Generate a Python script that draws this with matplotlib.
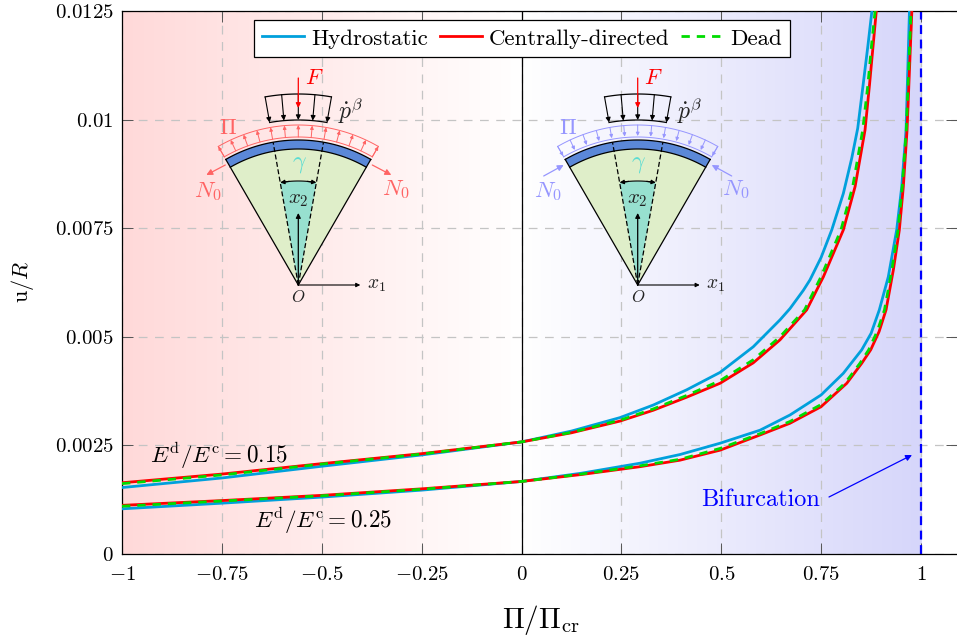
import numpy as np
import matplotlib
matplotlib.use('Agg')
import matplotlib.pyplot as plt

plt.rcParams['font.family'] = ['cmr10', 'DejaVu Serif']
plt.rcParams['mathtext.fontset'] = 'cm'
plt.rcParams['axes.unicode_minus'] = False
plt.rcParams['axes.formatter.use_mathtext'] = True

# curves, stiffness ratio 0.15
x_h15 = [-1, -0.75, -0.5, -0.25, 0, 0.125, 0.2466, 0.33, 0.4135, 0.4969, 0.58, 0.647, 0.672, 0.7054, 0.722, 0.75, 0.7765, 0.8055, 0.8265, 0.8415, 0.855, 0.867, 0.877]
u_h15 = [0.00153, 0.00175, 0.00202, 0.00228, 0.00258, 0.00283, 0.00314, 0.00343, 0.00378, 0.00418, 0.00477, 0.00539, 0.00565, 0.00607, 0.00631, 0.00683, 0.00746, 0.0083, 0.00911, 0.0098, 0.0108, 0.0117, 0.0125]
x_r15 = [-1, -0.75, -0.5, -0.25, 0, 0.125, 0.2466, 0.33, 0.4135, 0.4969, 0.58, 0.647, 0.7138, 0.7555, 0.8055, 0.835, 0.8598, 0.871, 0.880, 0.888]
u_r15 = [0.00164, 0.00184, 0.00208, 0.00231, 0.00258, 0.00279, 0.00306, 0.00331, 0.00361, 0.00393, 0.0044, 0.00493, 0.00562, 0.00638, 0.00746, 0.00846, 0.00976, 0.0108, 0.0117, 0.0125]
x_d15 = [-1, -0.75, -0.5, -0.25, 0, 0.125, 0.2466, 0.33, 0.4135, 0.4969, 0.58, 0.647, 0.7085, 0.7495, 0.7995, 0.829, 0.854, 0.867, 0.876, 0.885]
u_d15 = [0.00162, 0.00182, 0.00207, 0.0023, 0.00258, 0.0028, 0.00308, 0.00334, 0.00365, 0.00399, 0.00447, 0.005, 0.00562, 0.00638, 0.00746, 0.00846, 0.00976, 0.0108, 0.0117, 0.0125]

# curves, stiffness ratio 0.25
x_h25 = [-1, -0.75, -0.5, -0.25, 0, 0.15, 0.2966, 0.3967, 0.4969, 0.597, 0.672, 0.7497, 0.8055, 0.8515, 0.875, 0.8956, 0.918, 0.939, 0.9517, 0.9625, 0.971]
u_h25 = [0.00104, 0.00117, 0.00131, 0.00147, 0.00167, 0.00186, 0.00209, 0.00229, 0.00255, 0.00285, 0.0032, 0.00366, 0.00416, 0.0047, 0.00508, 0.00562, 0.00638, 0.00746, 0.00846, 0.00976, 0.0125]
x_r25 = [-1, -0.75, -0.5, -0.25, 0, 0.15, 0.2966, 0.3967, 0.4969, 0.597, 0.672, 0.7497, 0.8141, 0.8515, 0.874, 0.895, 0.9124, 0.9307, 0.9457, 0.9557, 0.965, 0.977]
u_r25 = [0.00112, 0.00123, 0.00135, 0.0015, 0.00167, 0.00183, 0.00201, 0.00216, 0.00239, 0.00274, 0.00301, 0.00339, 0.00393, 0.00439, 0.0047, 0.00512, 0.00562, 0.00654, 0.00746, 0.00846, 0.00976, 0.0125]
x_d25 = [-1, -0.75, -0.5, -0.25, 0, 0.15, 0.2966, 0.3967, 0.4969, 0.597, 0.672, 0.7497, 0.8095, 0.847, 0.869, 0.89, 0.9085, 0.927, 0.9425, 0.953, 0.963, 0.975]
u_d25 = [0.0011, 0.00122, 0.00134, 0.00149, 0.00167, 0.00184, 0.00203, 0.00218, 0.00243, 0.00277, 0.00305, 0.00344, 0.00393, 0.00439, 0.0047, 0.00512, 0.00562, 0.00654, 0.00746, 0.00846, 0.00976, 0.0125]

x_ticks = [-1, -0.75, -0.5, -0.25, 0, 0.25, 0.5, 0.75, 1]
x_labels = ['$-1$', '$-0.75$', '$-0.5$', '$-0.25$', '$0$', '$0.25$', '$0.5$', '$0.75$', '$1$']
y_ticks = [0, 0.0025, 0.005, 0.0075, 0.01, 0.0125]
y_labels = ['$0$', '$0.0025$', '$0.005$', '$0.0075$', '$0.01$', '$0.0125$']

hydro_c = '#00a0dc'
red_c = '#ff0000'
dead_c = '#00dc00'

W, H = 957, 638
fig = plt.figure(figsize=(W / 100, H / 100), dpi=100)
ax = fig.add_axes([122 / W, 1 - 554 / H, (W - 122) / W, (554 - 11) / H])

# background shading, red on the tension side and blue on the compression side
s = np.linspace(-1, 1, 400)
shade = np.ones((1, 400, 3))
left = s < 0
shade[0, left, 1] = 1 + s[left] * 38 / 255
shade[0, left, 2] = 1 + s[left] * 38 / 255
shade[0, ~left, 0] = 1 - s[~left] * 41 / 255
shade[0, ~left, 1] = 1 - s[~left] * 41 / 255
shade[0, ~left, 2] = 1 - s[~left] * 5 / 255
ax.imshow(shade, extent=[-1, 1, 0, 0.0125], aspect='auto', zorder=0, interpolation='bilinear')

ax.set_xlim(-1, 1.09)
ax.set_ylim(0, 0.0125)
ax.set_xticks(x_ticks)
ax.set_xticklabels(x_labels, fontsize=15)
ax.set_yticks(y_ticks)
ax.set_yticklabels(y_labels, fontsize=15)
ax.tick_params(direction='in', length=8, width=0.7, color='#555555', top=True, right=True, pad=6)
ax.tick_params(axis='x', pad=9)
ax.grid(True, color='#c4c4c4', lw=0.9, dashes=(7, 6))
ax.set_axisbelow(True)
ax.spines['right'].set_visible(False)
for sp in ['left', 'top', 'bottom']:
    ax.spines[sp].set_linewidth(0.9)

ax.axvline(0, color='black', lw=0.9, zorder=2)
ax.axvline(1, color='blue', lw=1.6, dashes=(4, 2.5), zorder=2)

lw = 2.0
h_line, = ax.plot(x_h15, u_h15, color=hydro_c, lw=lw, zorder=3, label='Hydrostatic')
r_line, = ax.plot(x_r15, u_r15, color=red_c, lw=lw, zorder=3, label='Centrally-directed')
d_line, = ax.plot(x_d15, u_d15, color=dead_c, lw=lw, dashes=(3, 2.5), zorder=4, label='Dead')
ax.plot(x_h25, u_h25, color=hydro_c, lw=lw, zorder=3)
ax.plot(x_r25, u_r25, color=red_c, lw=lw, zorder=3)
ax.plot(x_d25, u_d25, color=dead_c, lw=lw, dashes=(3, 2.5), zorder=4)

leg = ax.legend(handles=[h_line, r_line, d_line], ncol=3, loc='center',
                bbox_to_anchor=((522 - 122) / (W - 122), (554 - 38.5) / 543), fontsize=16.5,
                frameon=True, fancybox=False, framealpha=1, edgecolor='black',
                handlelength=1.85, columnspacing=0.5, handletextpad=0.3, borderpad=0.35, borderaxespad=0)
leg.get_frame().set_linewidth(0.9)
leg.set_zorder(6)

ax.set_xlabel(r'$\Pi/\Pi_{\mathrm{cr}}$', fontsize=21)
ax.xaxis.set_label_coords((541 - 122) / (W - 122), -49 / 543)
ax.set_ylabel(r'$\mathrm{u}/R$', fontsize=16)
ax.yaxis.set_label_coords((36 - 122) / (W - 122), (554 - 282) / 543)

# overlay in pixel units for the two sector sketches and text
ov = fig.add_axes([0, 0, 1, 1], zorder=5)
ov.set_xlim(0, W)
ov.set_ylim(H, 0)
ov.axis('off')
ov.patch.set_alpha(0)


def pt(o, r, deg):
    # deg measured from the vertical, screen y goes down
    a = np.radians(deg)
    return o[0] + r * np.sin(a), o[1] - r * np.cos(a)


def arc(o, r, a0, a1, **kw):
    t = np.radians(np.linspace(a0, a1, 60))
    ov.plot(o[0] + r * np.sin(t), o[1] - r * np.cos(t), **kw)


def arrow(p0, p1, color='black', lw=0.9, style='-|>', scale=8):
    ov.annotate('', xy=p1, xytext=p0,
                arrowprops=dict(arrowstyle=style, color=color, lw=lw, shrinkA=0, shrinkB=0,
                                mutation_scale=scale))


def wedge(o, r0, r1, a0, a1, color, z=2):
    t = np.radians(np.linspace(a0, a1, 60))
    xs = np.r_[o[0] + r1 * np.sin(t), o[0] + r0 * np.sin(t[::-1])]
    ys = np.r_[o[1] - r1 * np.cos(t), o[1] - r0 * np.cos(t[::-1])]
    ov.fill(xs, ys, color=color, lw=0, zorder=z)


def sketch(ox, outward):
    o = (ox, 285)
    col = '#ff6464' if outward else '#9696ff'
    wedge(o, 0, 136, -30, 30, '#dfeec9')
    wedge(o, 0, 104, -10, 10, '#97e0cf', z=3)
    wedge(o, 136, 145, -30, 30, '#5b88d8', z=3)
    k = dict(color='black', lw=0.9, zorder=4)
    arc(o, 145, -30, 30, **k)
    arc(o, 136, -30, 30, **k)
    for a in (-30, 30):
        ov.plot(*zip(o, pt(o, 145, a)), **k)
    for a in (-10, 10):
        ov.plot(*zip(o, pt(o, 145, a)), color='black', lw=0.9, ls=(0, (4, 2)), zorder=4)
    # gamma opening arrow
    arc(o, 104, -9, 9, color='black', lw=0.8, zorder=5)
    arrow(pt(o, 104, -5), pt(o, 104, -10), scale=6)
    arrow(pt(o, 104, 5), pt(o, 104, 10), scale=6)
    # Pi band
    arc(o, 148, -30, 30, color=col, lw=0.7, zorder=4)
    arc(o, 160, -30, 30, color=col, lw=0.7, zorder=4)
    for a in (-30, 30):
        ov.plot(*zip(pt(o, 148, a), pt(o, 160, a)), color=col, lw=0.7, zorder=4)
    for a in range(-30, 31, 5):
        if outward:
            arrow(pt(o, 148, a), pt(o, 160, a), color=col, lw=0.7, scale=5)
        else:
            arrow(pt(o, 160, a), pt(o, 149, a), color=col, lw=0.7, scale=5)
    # distributed load
    arc(o, 191, -10, 10, color='black', lw=0.9)
    arc(o, 165, -10, 10, color='black', lw=0.9)
    for a in (-10, -5, 0, 5, 10):
        arrow(pt(o, 191, a), pt(o, 165, a), lw=0.8, scale=7)
    arrow((ox, 78), (ox, 108), color='red', lw=0.9, scale=7)
    # axes of the sketch
    arrow(o, (ox, 213), lw=0.9, scale=7)
    arrow(o, (ox + 62, 285), lw=0.8, scale=6)
    # N0 arrows
    if outward:
        arrow((ox - 73, 165), (ox - 92, 175), color=col, lw=0.9, scale=9)
        arrow((ox + 74, 165), (ox + 93, 175), color=col, lw=0.9, scale=9)
    else:
        arrow((ox - 94, 176), (ox - 74, 165), color=col, lw=0.9, scale=9)
        arrow((ox + 94, 176), (ox + 74, 165), color=col, lw=0.9, scale=9)
    ctr = dict(ha='center', va='center', zorder=7)
    ov.text(ox + 16, 78, '$F$', color='red', fontsize=16, **ctr)
    ov.text(ox + 52, 111, r'$\dot{p}^{\beta}$', color='#222222', fontsize=17, **ctr)
    ov.text(ox - 70, 128, r'$\Pi$', color=col, fontsize=16, **ctr)
    ov.text(ox - 90, 192, '$N_0$', color=col, fontsize=16.5, **ctr)
    ov.text(ox + 98, 190, '$N_0$', color=col, fontsize=16.5, **ctr)
    ov.text(ox + 1, 164, r'$\gamma$', color='#5adcd2', fontsize=17, **ctr)
    ov.text(ox, 200, '$x_2$', color='#222222', fontsize=15, **ctr)
    ov.text(ox + 78, 285, '$x_1$', color='#222222', fontsize=14, **ctr)
    ov.text(ox, 297, '$O$', color='#222222', fontsize=12, **ctr)


sketch(298.3, True)
sketch(637.7, False)

ov.text(219, 455, r'$E^{\mathrm{d}}/E^{\mathrm{c}}=0.15$', fontsize=16.7, ha='center', va='center')
ov.text(323, 520, r'$E^{\mathrm{d}}/E^{\mathrm{c}}=0.25$', fontsize=16.7, ha='center', va='center')
ov.text(761, 500, 'Bifurcation', fontsize=17.5, color='blue', ha='center', va='center')
arrow((829, 497), (912, 455), color='blue', lw=0.9, scale=9)

fig.savefig('out.png', dpi=100)
